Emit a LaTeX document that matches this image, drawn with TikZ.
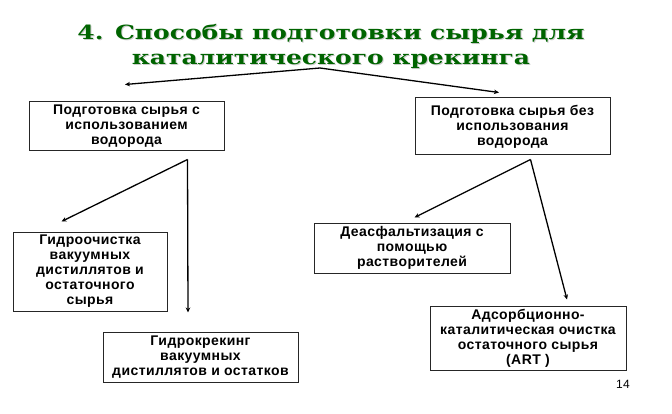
\documentclass[tikz,border=0pt]{standalone}
\usepackage{fontspec}
\setmainfont{Liberation Sans}[LetterSpace=3]
\newfontfamily\titlefont{DejaVu Serif}[FakeStretch=1.28]
\usetikzlibrary{arrows.meta}
\definecolor{titlegreen}{RGB}{0,100,0}

\begin{document}
\begin{tikzpicture}[
x=1pt, y=1pt,
>={Stealth[length=5pt,width=4.5pt]},
box/.style={rectangle, draw=black!85, fill=white, line width=1pt, align=center, inner sep=0pt, font=\bfseries\fontsize{14}{15}\selectfont},
headline/.style={align=center, inner sep=0pt, font=\titlefont\bfseries\fontsize{19.5}{25}\selectfont},
link/.style={->, line width=1.3pt},
]
\useasboundingbox (0,0) rectangle (672,413);
% title and its shadow
\node[headline, text=black!20] (shadow) at (332,366) {4. Способы подготовки сырья для\\каталитического крекинга};
\node[headline, text=titlegreen] (title) at (331,367) {4. Способы подготовки сырья для\\каталитического крекинга};
\coordinate (top) at (320,345);
% boxes
\node[box, minimum width=195pt, minimum height=49pt] (withH) at (126.5,286.5) {Подготовка сырья с\\использованием\\водорода};
\node[box, minimum width=195pt, minimum height=57pt] (noH) at (512.5,286.5) {Подготовка сырья без\\использования\\водорода};
\node[box, minimum width=154pt, minimum height=79pt] (hydrotreat) at (90,141.5) {Гидроочистка\\вакуумных\\дистиллятов и\\остаточного\\сырья};
\node[box, minimum width=195pt, minimum height=50pt] (hydrocrack) at (200.5,56) {Гидрокрекинг\\вакуумных\\дистиллятов и остатков};
\node[box, minimum width=196pt, minimum height=50pt] (deasph) at (412,165) {Деасфальтизация с\\помощью\\растворителей};
\node[box, minimum width=196pt, minimum height=64pt] (art) at (528,75) {Адсорбционно-\\каталитическая очистка\\остаточного сырья\\(ART )};
\node[font=\fontsize{12}{14}\selectfont] (page) at (623,29) {14};
% branch points and arrow ends
\coordinate (a1) at ([xshift=-37pt,yshift=-8pt]withH.south east);
\coordinate (b1) at ([xshift=-80pt,yshift=-4pt]noH.south east);
\draw[link] (top) -- ([xshift=-1.5pt,yshift=17pt]withH.north);
\draw[link] (top) -- ([xshift=-13.5pt,yshift=5pt]noH.north);
\draw[link] (a1) -- ([xshift=49pt,yshift=10pt]hydrotreat.north west);
\draw[link] (a1) -- ([xshift=-12.5pt,yshift=19pt]hydrocrack.north);
\draw[link] (b1) -- ([xshift=101pt,yshift=5pt]deasph.north west);
\draw[link] (b1) -- ([xshift=39pt,yshift=6pt]art.north);
\end{tikzpicture}
\end{document}
